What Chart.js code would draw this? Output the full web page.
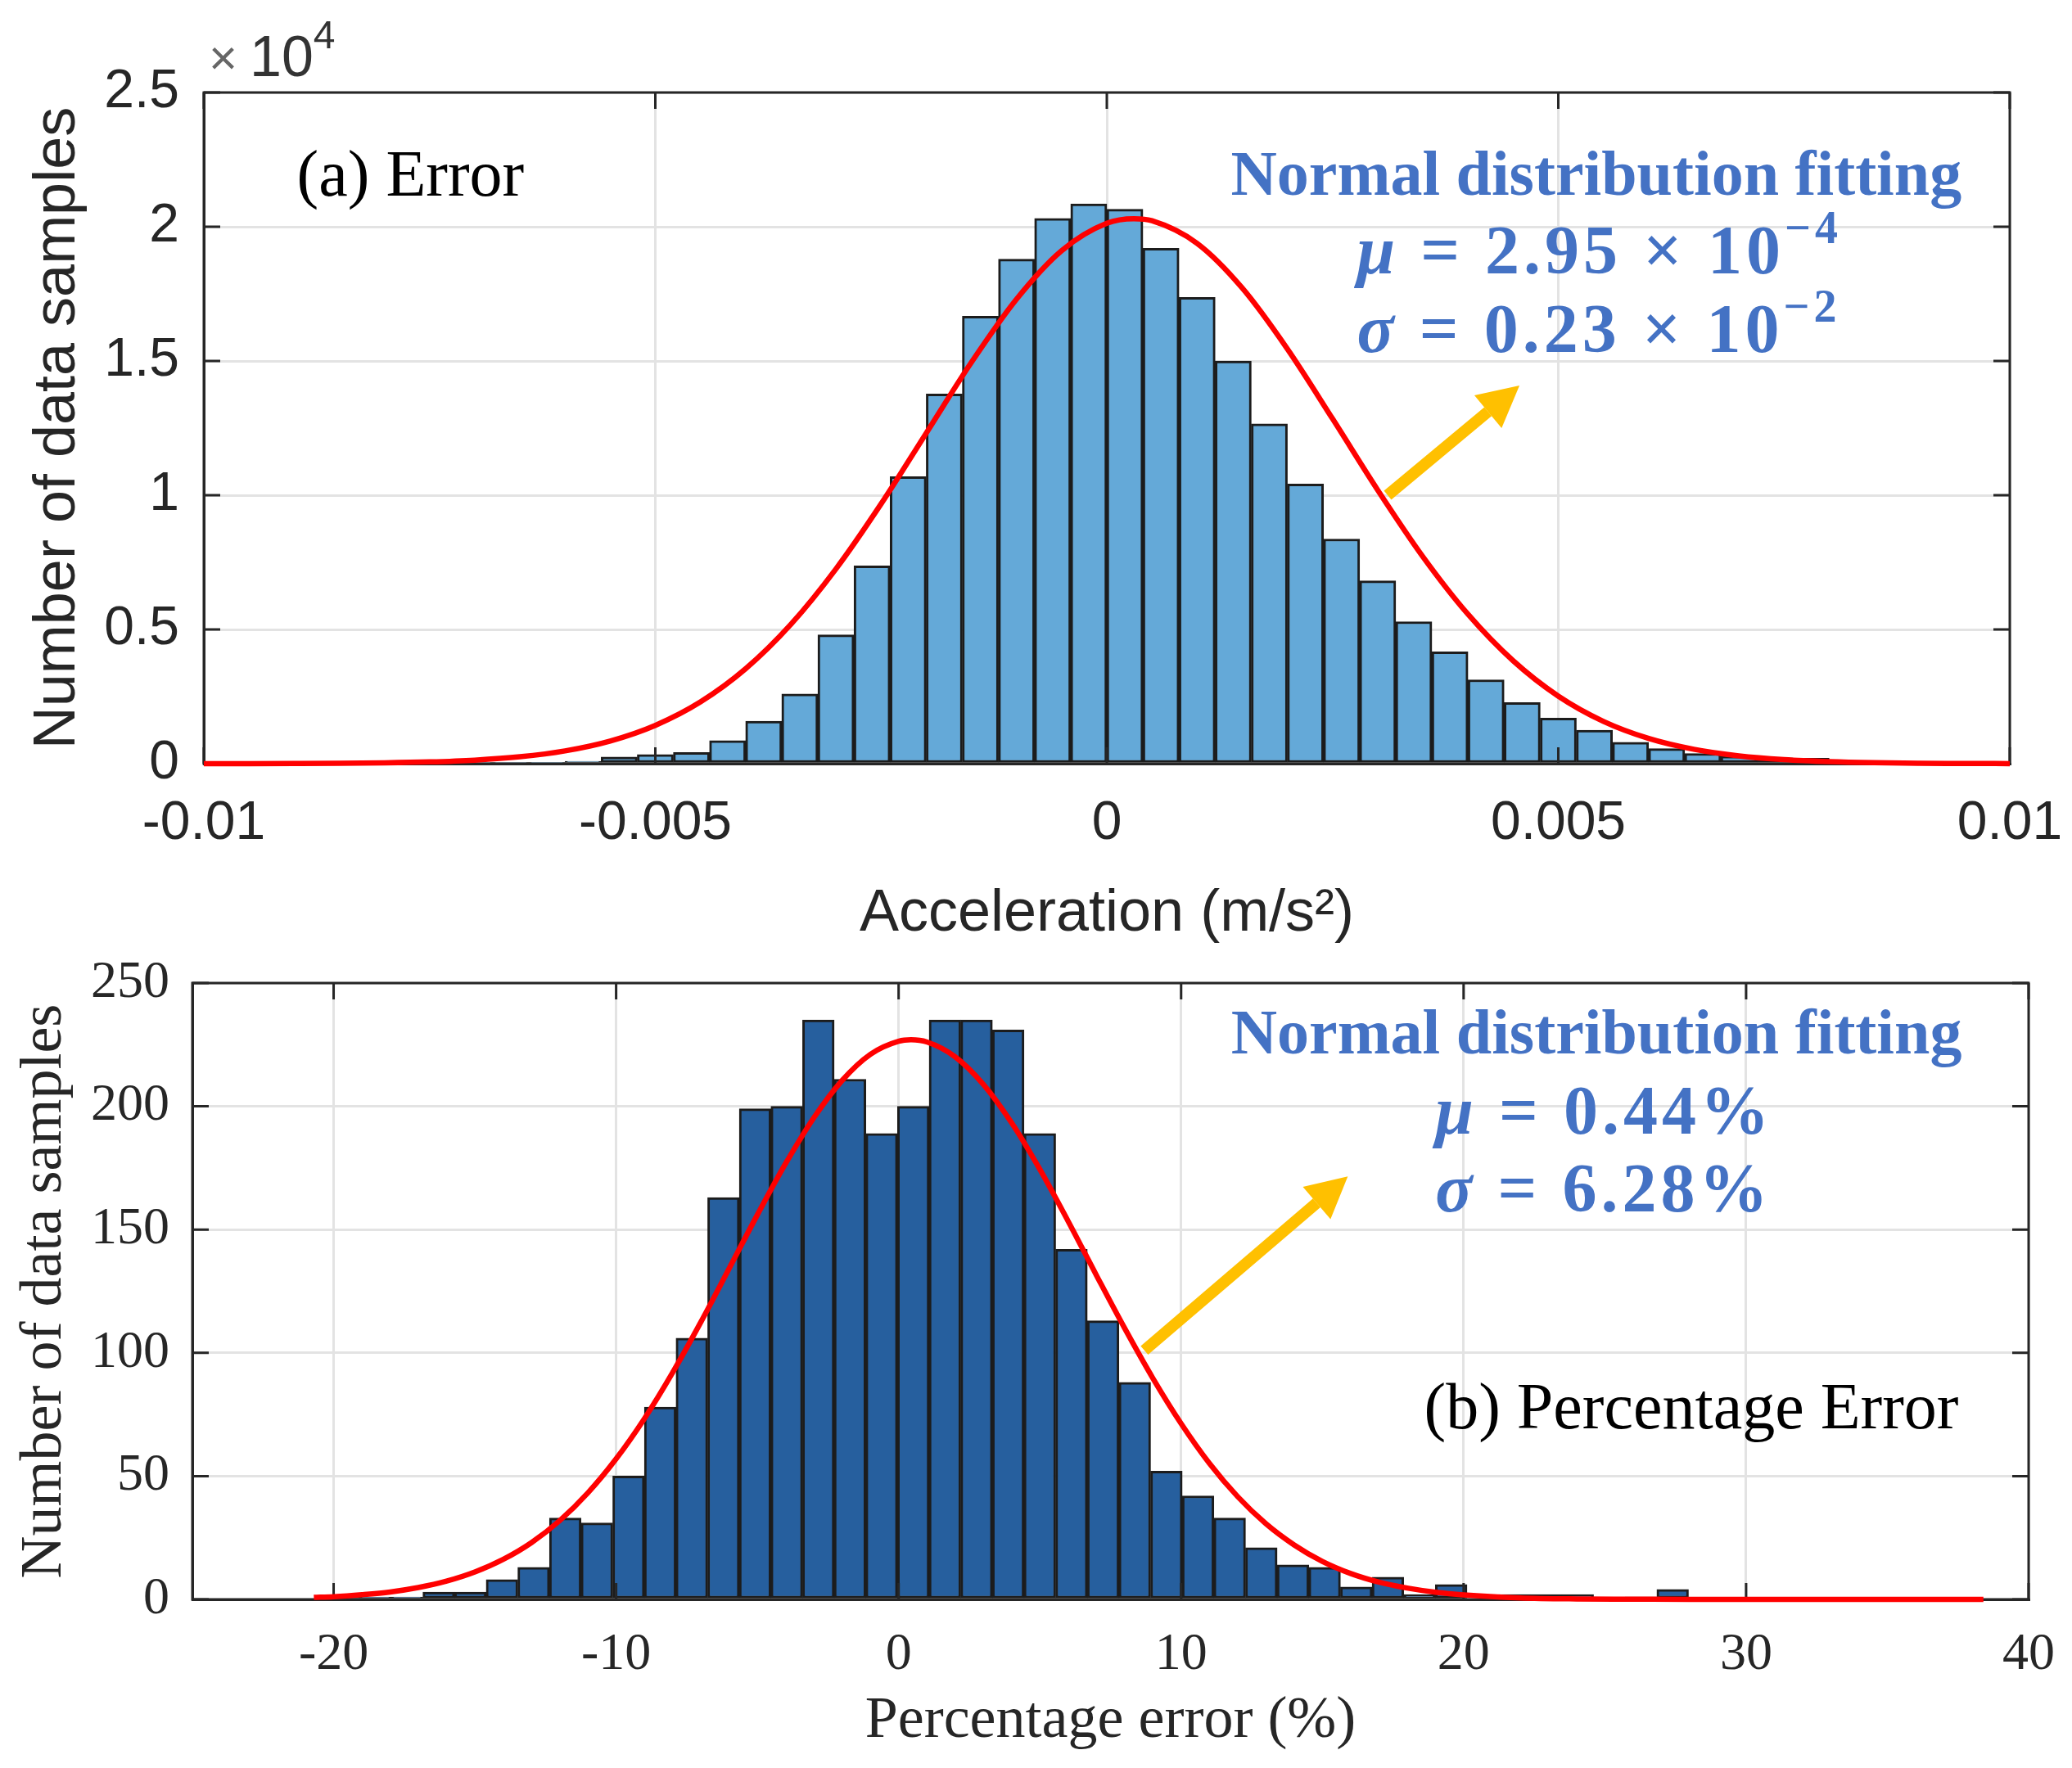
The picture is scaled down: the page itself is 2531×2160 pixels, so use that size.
<!DOCTYPE html>
<html>
<head>
<meta charset="utf-8">
<script src="https://cdn.jsdelivr.net/npm/chart.js@4.4.1/dist/chart.umd.min.js"></script>
<style>
  html, body { margin: 0; padding: 0; background: #fff; }
  #wrap { position: relative; width: 2531px; height: 2160px; }
  #top { position: absolute; left: 0; top: 0; }
  #bot { position: absolute; left: 0; top: 1160px; }
</style>
</head>
<body>
<div id="wrap">
  <canvas id="top" width="2531" height="1160"></canvas>
  <canvas id="bot" width="2531" height="1000"></canvas>
</div>
<script>
// ---- (a) acceleration error ----
const accBinStart = -0.0072;
const accBinWidth = 0.0004;
const accCounts = [20, 30, 50, 90, 250, 340, 420, 860, 1580, 2600,
  4800, 7370, 10690, 13770, 16670, 18790, 20310, 20850, 20650, 19200,
  17370, 15000, 12660, 10420, 8370, 6810, 5290, 4170, 3125, 2280,
  1700, 1250, 800, 560, 380, 280, 220, 200, 40, 20];
const accCurveX = [-0.01, -0.0095, -0.009, -0.0085, -0.008, -0.0075, -0.007, -0.0065, -0.006, -0.0055,
  -0.005, -0.0045, -0.004, -0.0035, -0.003, -0.0025, -0.002, -0.0015, -0.001, -0.0005,
  0, 0.0003, 0.0005, 0.001, 0.0015, 0.002, 0.0025, 0.003, 0.0035, 0.004, 0.0045,
  0.005, 0.0055, 0.006, 0.0065, 0.007, 0.0075, 0.008, 0.0085, 0.009, 0.0095, 0.01];
const accCurveY = [1, 2, 6, 13, 30, 65, 132, 257, 477, 844,
  1427, 2300, 3535, 5185, 7253, 9675, 12312, 14947, 17303, 19109,
  20128, 20300, 20223, 19380, 17716, 15448, 12848, 10193, 7712, 5566, 3833,
  2516, 1575, 941, 537, 292, 151, 75, 35, 16, 7, 3];
const accTicksX = [-0.01, -0.005, 0, 0.005, 0.01];
const accTickLabelsX = ['-0.01', '-0.005', '0', '0.005', '0.01'];
const accTicksY = [0, 5000, 10000, 15000, 20000, 25000];
const accTickLabelsY = ['0', '0.5', '1', '1.5', '2', '2.5'];

// ---- (b) percentage error ----
const pctBinStart = -20.2;
const pctBinWidth = 1.12;
const pctCounts = [1, 1, 1, 3, 3, 8, 13, 33, 31, 50,
  78, 106, 163, 199, 200, 235, 211, 189, 200, 235,
  235, 231, 189, 142, 113, 88, 52, 42, 33, 21,
  14, 13, 5, 9, 2, 6, 0, 2, 2, 2,
  0, 1, 4, 0, 0, 0, 0, 0, 0, 0, 0, 0, 0];
const pctCurveX = [-20.7, -20, -19, -18, -17, -16, -15, -14, -13, -12, -11, -10,
  -9, -8, -7, -6, -5, -4, -3, -2, -1, 0, 0.44, 1, 2, 3, 4, 5, 6, 7, 8, 9,
  10, 11, 12, 13, 14, 15, 16, 17, 18, 19, 20, 22, 24, 26, 28, 30, 34, 38.4];
const pctCurveY = [0.8, 1.1, 1.9, 3.0, 4.8, 7.4, 11.1, 16.2, 23.0, 31.9, 43.2, 57.0,
  73.3, 92.0, 112.5, 134.2, 156.0, 176.8, 195.4, 210.5, 221.1, 226.4, 227, 226.1, 220.1, 208.9, 193.3, 174.4, 153.4, 131.5, 110.0, 89.7,
  71.3, 55.2, 41.7, 30.7, 22.1, 15.4, 10.5, 7.0, 4.6, 2.9, 1.8, 0.6, 0.2, 0.1, 0, 0, 0, 0];
const pctTicksX = [-20, -10, 0, 10, 20, 30, 40];
const pctTicksY = [0, 50, 100, 150, 200, 250];

const AXIS = '#262626';
const GRID = '#e3e3e3';
const BLUE = '#4472C4';

// histogram bars as {x: bin centre, y: count}
function histPoints(start, width, counts) {
  return counts.map((c, i) => ({ x: start + (i + 0.5) * width, y: c }));
}
function curvePoints(xs, ys) {
  return xs.map((x, i) => ({ x: x, y: ys[i] }));
}

// MATLAB style box with inward ticks, drawn right after the bars
const boxPlugin = {
  id: 'mbox',
  afterDatasetDraw(chart, args) {
    if (args.meta.type !== 'bar') return;
    const { ctx, chartArea: a, scales: { x, y } } = chart;
    const len = 20;
    ctx.save();
    ctx.strokeStyle = AXIS;
    ctx.lineWidth = 3;
    ctx.strokeRect(a.left, a.top, a.right - a.left, a.bottom - a.top);
    ctx.beginPath();
    x.ticks.forEach(t => {
      const px = x.getPixelForValue(t.value);
      ctx.moveTo(px, a.bottom); ctx.lineTo(px, a.bottom - len);
      ctx.moveTo(px, a.top); ctx.lineTo(px, a.top + len);
    });
    y.ticks.forEach(t => {
      const py = y.getPixelForValue(t.value);
      ctx.moveTo(a.left, py); ctx.lineTo(a.left + len, py);
      ctx.moveTo(a.right, py); ctx.lineTo(a.right - len, py);
    });
    ctx.stroke();
    ctx.restore();
  }
};

// text labels and the yellow arrow, placed in data coordinates
const notePlugin = {
  id: 'notes',
  afterDraw(chart, args, opts) {
    const { ctx, scales: { x, y }, chartArea: a } = chart;
    ctx.save();
    (opts.items || []).forEach(it => {
      if (it.kind === 'arrow') {
        const x1 = x.getPixelForValue(it.x1), y1 = y.getPixelForValue(it.y1);
        const x2 = x.getPixelForValue(it.x2), y2 = y.getPixelForValue(it.y2);
        const ang = Math.atan2(y2 - y1, x2 - x1);
        const head = 50, hw = 26;
        const bx = x2 - head * Math.cos(ang), by = y2 - head * Math.sin(ang);
        ctx.strokeStyle = '#FFC000';
        ctx.fillStyle = '#FFC000';
        ctx.lineWidth = 14;
        ctx.beginPath(); ctx.moveTo(x1, y1); ctx.lineTo(bx, by); ctx.stroke();
        ctx.beginPath();
        ctx.moveTo(x2, y2);
        ctx.lineTo(bx + hw * Math.sin(ang), by - hw * Math.cos(ang));
        ctx.lineTo(bx - hw * Math.sin(ang), by + hw * Math.cos(ang));
        ctx.closePath(); ctx.fill();
        return;
      }
      let px = it.x === undefined ? a.left + it.dx : x.getPixelForValue(it.x);
      const py = it.y === undefined ? a.top + it.dy : y.getPixelForValue(it.y);
      ctx.fillStyle = it.color;
      ctx.textBaseline = it.baseline || 'middle';
      ctx.letterSpacing = it.spacing || '0px';
      const parts = it.parts || [{ t: it.text, font: it.font }];
      ctx.textAlign = 'left';
      let total = 0;
      parts.forEach(p => { ctx.font = p.font; total += ctx.measureText(p.t).width; });
      if (it.align === 'center') px -= total / 2;
      if (it.align === 'right') px -= total;
      parts.forEach(p => {
        ctx.font = p.font;
        ctx.fillText(p.t, px, py - (p.rise || 0));
        px += ctx.measureText(p.t).width;
      });
    });
    ctx.restore();
  }
};

function mathLine(sym, rest, sup) {
  const parts = [
    { t: sym, font: 'italic bold 84px "Liberation Serif"' },
    { t: rest, font: 'bold 84px "Liberation Serif"' }
  ];
  if (sup) parts.push({ t: sup, font: 'bold 56px "Liberation Serif"', rise: 30 });
  return parts;
}

function makeChart(id, cfg) {
  return new Chart(document.getElementById(id), {
    type: 'bar',
    data: {
      datasets: [
        {
          type: 'line',
          data: cfg.curve,
          borderColor: '#ff0000',
          borderWidth: 6.5,
          pointRadius: 0,
          cubicInterpolationMode: 'monotone',
          clip: false,
          order: 0
        },
        {
          data: cfg.bars,
          backgroundColor: cfg.barColor,
          borderColor: '#1c1c1c',
          borderWidth: 3,
          borderSkipped: false,
          barPercentage: 1,
          categoryPercentage: 1,
          order: 1
        }
      ]
    },
    options: {
      responsive: false,
      animation: false,
      devicePixelRatio: 1,
      layout: { padding: cfg.padding },
      plugins: {
        legend: { display: false },
        tooltip: { enabled: false },
        notes: { items: cfg.notes }
      },
      scales: {
        x: {
          type: 'linear',
          min: cfg.xMin, max: cfg.xMax,
          offset: false,
          // fixed axis height; edge labels may overhang the plot box like in MATLAB
          afterFit: s => { s.height = cfg.xAxisH; s.paddingLeft = 0; s.paddingRight = 0; },
          afterBuildTicks: s => { s.ticks = cfg.xTicks.map(v => ({ value: v })); },
          grid: { color: GRID, lineWidth: 3, drawTicks: false, offset: false },
          border: { display: true, color: AXIS, width: 3 },
          ticks: {
            autoSkip: false, maxRotation: 0, color: AXIS, padding: cfg.xTickPad,
            font: cfg.tickFont,
            callback: (v, i) => cfg.xLabels[i]
          },
          title: {
            display: true, text: cfg.xTitle, color: AXIS,
            font: cfg.titleFont, padding: { top: 0, bottom: cfg.xTitlePad }
          }
        },
        y: {
          min: cfg.yMin, max: cfg.yMax,
          afterFit: s => { s.width = cfg.yAxisW; s.paddingTop = 0; s.paddingBottom = 0; },
          afterBuildTicks: s => { s.ticks = cfg.yTicks.map(v => ({ value: v })); },
          grid: { color: GRID, lineWidth: 3, drawTicks: false },
          border: { display: true, color: AXIS, width: 3 },
          ticks: {
            autoSkip: false, color: AXIS, padding: cfg.yTickPad,
            font: cfg.tickFont,
            callback: (v, i) => cfg.yLabels[i]
          },
          title: {
            display: true, text: 'Number of data samples', color: AXIS,
            font: cfg.titleFont, padding: { top: cfg.yTitlePad, bottom: 0 }
          }
        }
      }
    },
    plugins: [boxPlugin, notePlugin]
  });
}

makeChart('top', {
  bars: histPoints(accBinStart, accBinWidth, accCounts),
  curve: curvePoints(accCurveX, accCurveY),
  barColor: '#64A9D8',
  padding: { top: 113, right: 76, left: 0, bottom: 0 },
  xMin: -0.01, xMax: 0.01, yMin: 0, yMax: 25000,
  xTicks: accTicksX, xLabels: accTickLabelsX,
  yTicks: accTicksY, yLabels: accTickLabelsY,
  xAxisH: 227, yAxisW: 249,
  xTickPad: 34, yTickPad: 30, xTitlePad: 0, yTitlePad: 28,
  tickFont: { family: 'Liberation Sans', size: 66 },
  titleFont: { family: 'Liberation Sans', size: 72 },
  xTitle: 'Acceleration (m/s²)',
  notes: [
    { text: '×', font: '60px "Liberation Sans"', color: '#666', dx: 6, dy: -22, baseline: 'alphabetic' },
    { parts: [{ t: '10', font: '70px "Liberation Sans"' }, { t: '4', font: '48px "Liberation Sans"', rise: 34 }],
      color: '#333', dx: 56, dy: -20, baseline: 'alphabetic' },
    { text: '(a) Error', font: '80px "Liberation Serif"', color: '#000', x: -0.00897, y: 21800 },
    { text: 'Normal distribution fitting', font: 'bold 78px "Liberation Serif"', color: BLUE,
      x: 0.00542, y: 21800, align: 'center' },
    { parts: mathLine('μ', ' = 2.95 × 10', '−4'), color: BLUE, x: 0.00277, y: 18930, spacing: '5px' },
    { parts: mathLine('σ', ' = 0.23 × 10', '−2'), color: BLUE, x: 0.00277, y: 16000, spacing: '5px' },
    { kind: 'arrow', x1: 0.00311, y1: 10000, x2: 0.00457, y2: 14085 }
  ]
});

makeChart('bot', {
  bars: histPoints(pctBinStart, pctBinWidth, pctCounts),
  curve: curvePoints(pctCurveX, pctCurveY),
  barColor: '#265F9E',
  padding: { top: 41, right: 53, left: 0, bottom: 0 },
  xMin: -25, xMax: 40, yMin: 0, yMax: 250,
  xTicks: pctTicksX, xLabels: pctTicksX.map(String),
  yTicks: pctTicksY, yLabels: pctTicksY.map(String),
  xAxisH: 206, yAxisW: 235,
  xTickPad: 30, yTickPad: 28, xTitlePad: 14, yTitlePad: 12,
  tickFont: { family: 'Liberation Serif', size: 64 },
  titleFont: { family: 'Liberation Serif', size: 72 },
  xTitle: 'Percentage error (%)',
  notes: [
    { text: 'Normal distribution fitting', font: 'bold 78px "Liberation Serif"', color: BLUE,
      x: 24.7, y: 228, align: 'center' },
    { parts: mathLine('μ', ' = 0.44%'), color: BLUE, x: 19.0, y: 196, spacing: '5px' },
    { parts: mathLine('σ', ' = 6.28%'), color: BLUE, x: 19.0, y: 164.7, spacing: '5px' },
    { text: '(b) Percentage Error', font: '80px "Liberation Serif"', color: '#000',
      x: 28.06, y: 76.4, align: 'center' },
    { kind: 'arrow', x1: 8.7, y1: 101, x2: 15.9, y2: 171.6 }
  ]
});
</script>
</body>
</html>
